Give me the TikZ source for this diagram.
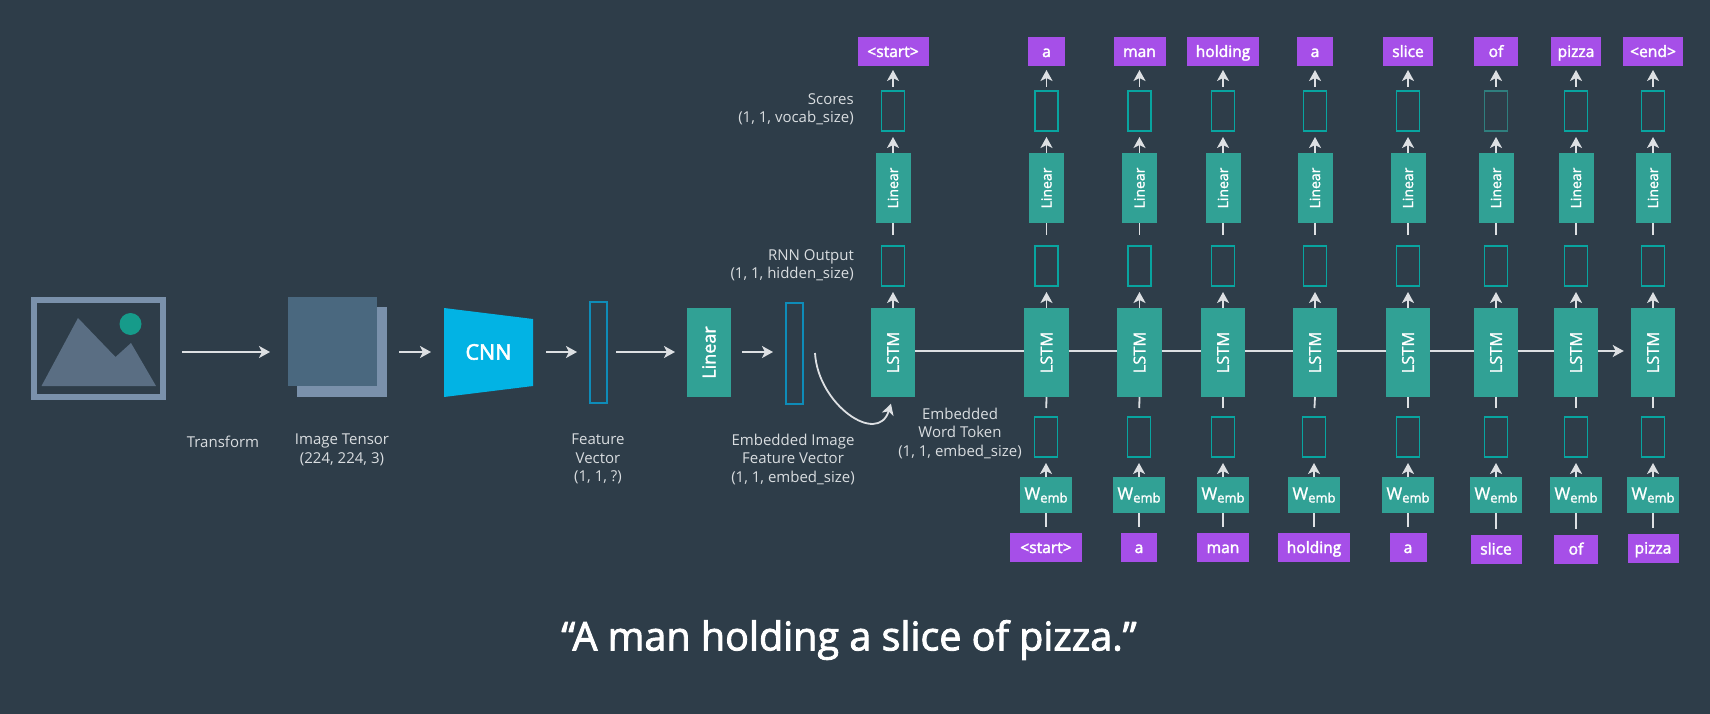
\documentclass[tikz,border=0pt]{standalone}
\usepackage{fontspec}
\setmainfont{Open Sans}
\usetikzlibrary{arrows.meta}
\definecolor{bgcol}{HTML}{2E3D49}
\definecolor{framecol}{HTML}{7A91AB}
\definecolor{hillcol}{HTML}{5A6E83}
\definecolor{tensorcol}{HTML}{4A687F}
\definecolor{tealcol}{HTML}{31A195}
\definecolor{suncol}{HTML}{169B8A}
\definecolor{outcol}{HTML}{08A5A0}
\definecolor{dimcol}{HTML}{2F7F7E}
\definecolor{bluecol}{HTML}{02B3E4}
\definecolor{vecblue}{HTML}{0E8CB8}
\definecolor{purplecol}{HTML}{A64FE8}
\definecolor{linecol}{HTML}{DDE0E3}
\definecolor{textcol}{HTML}{D9DDE0}
\newcommand{\heavy}[2]{\special{pdf:code 1 1 1 RG 2 Tr #1 w}#2\special{pdf:code 0 Tr}}
\tikzset{
lab/.style={text=textcol,align=center,font=\fontsize{15}{18.3}\selectfont,inner sep=0pt},
labr/.style={lab,align=right,anchor=east},
tealbox/.style={fill=tealcol,text=white,inner sep=0pt,outer sep=0pt},
lstmbox/.style={tealbox,minimum width=44.5pt,minimum height=89pt,font=\fontsize{16.5}{16.5}\selectfont},
linbox/.style={tealbox,minimum width=35pt,minimum height=70pt,font=\fontsize{14}{14}\selectfont},
wembbox/.style={tealbox,minimum width=52pt,minimum height=36pt,font=\fontsize{17}{17}\selectfont},
vecbox/.style={draw=outcol,line width=1.6pt,minimum width=23pt,minimum height=40pt,inner sep=0pt,outer sep=0pt},
wordbox/.style={fill=purplecol,text=white,minimum height=29pt,inner sep=0pt,outer sep=0pt,text height=14pt,text depth=3pt,font=\fontsize{15.6}{15.6}\selectfont},
feat/.style={draw=vecblue,line width=1.6pt,minimum height=101pt,inner sep=0pt,outer sep=0pt},
conn/.style={draw=linecol,line width=1.8pt},
arr/.style={conn,-{Stealth[length=11pt,width=12pt,inset=3pt]}}
}
\newcommand{\wemb}{\heavy{0.2}{W\raisebox{-3pt}{\fontsize{13}{13}\selectfont emb}}}
\begin{document}
\begin{tikzpicture}[x=1pt,y=-1pt]
\fill[bgcol] (0,0) rectangle (1710,714);
\useasboundingbox (0,0) rectangle (1710,714);

\node[draw=framecol,line width=6pt,minimum width=129pt,minimum height=97pt,inner sep=0pt,outer sep=3pt] (imgframe) at (98.5,348.5) {};
\fill[hillcol] (41.5,386) -- (78,318) -- (115.5,357) -- (131,343) -- (156,386) -- cycle;
\fill[suncol] (130.5,324) circle (11);
\node[fill=framecol,minimum width=90pt,minimum height=90pt,inner sep=0pt,outer sep=0pt] (tensorback) at (342,352) {};
\node[fill=tensorcol,minimum width=89pt,minimum height=89pt,inner sep=0pt,outer sep=0pt] (tensorfront) at (332.5,341.5) {};
\fill[bluecol] (444,308) -- (533,319) -- (533,386) -- (444,397) -- cycle;
\node[text=white,minimum width=89pt,minimum height=89pt,inner sep=0pt,outer sep=0pt,font=\fontsize{21.5}{21.5}\selectfont] (cnn) at (488.5,352) {\heavy{0.6}{CNN}};
\node[feat,minimum width=17pt] (featvec) at (598.5,352.5) {};
\node[tealbox,minimum width=44pt,minimum height=89pt,font=\fontsize{18}{18}\selectfont] (linear) at (709,352.5) {\rotatebox{90}{\heavy{0.3}{Linear}}};
\node[feat,minimum width=17pt] (embvec) at (794.5,353.5) {};

\draw[arr,shorten <=16pt,shorten >=18pt] (imgframe.east |- cnn) -- (tensorfront.west |- cnn);
\draw[arr,shorten <=12pt,shorten >=13pt] (tensorback.east) -- (cnn.west);
\draw[arr,shorten <=13pt,shorten >=13pt] (cnn.east) -- (featvec.west |- cnn);
\draw[arr,shorten <=9pt,shorten >=12pt] (featvec.east |- cnn) -- (linear.west |- cnn);
\draw[arr,shorten <=11pt,shorten >=13pt] (linear.east |- cnn) -- (embvec.west |- cnn);

\node[lab] (transformlab) at (223,442) {Transform};
\node[lab,anchor=north] (tensorlab) at (342,434) {Image Tensor\\(224, 224, 3)};
\node[lab,anchor=north] (featlab) at (598,434) {Feature\\Vector\\(1, 1, ?)};
\node[lab,anchor=north] (embveclab) at (793,434) {Embedded Image\\Feature Vector\\(1, 1, embed\_size)};
\node[lab,anchor=north] (tokenlab) at (960,408) {Embedded\\Word Token\\(1, 1, embed\_size)};
\node[labr] (scorelab) at (854,109.5) {Scores\\(1, 1, vocab\_size)};
\node[labr] (rnnlab) at (854,265) {RNN Output\\(1, 1, hidden\_size)};

\foreach \i/\x/\word/\wid/\scol in {0/893/{<start>}/71/outcol,1/1046.5/a/37/outcol,2/1139.5/man/52/outcol,3/1223/holding/72/outcol,4/1315/a/36.5/outcol,5/1408/slice/50.5/outcol,6/1496/of/44/dimcol,7/1576/pizza/50/outcol,8/1653/{<end>}/60/outcol}{
\node[lstmbox] (lstm\i) at (\x,352.5) {\rotatebox{90}{\heavy{0.2}{LSTM}}};
\node[vecbox] (rnn\i) at (\x,266) {};
\node[linbox] (lin\i) at (\x,188) {\rotatebox{90}{\heavy{0.2}{Linear}}};
\node[vecbox,draw=\scol] (score\i) at (\x,111) {};
\node[wordbox,minimum width=\wid pt] (out\i) at (\x,51.5) {\heavy{0.35}{\word}};
\draw[arr,shorten >=6pt] (lstm\i.north) -- (rnn\i.south);
\draw[conn,shorten <=11pt] (rnn\i.north) -- (lin\i.south);
\draw[arr,shorten >=6pt] (lin\i.north) -- (score\i.south);
\draw[arr,shorten <=4pt,shorten >=4pt] (score\i.north) -- (out\i.south);
}

\foreach \i/\x/\word/\wid/\wy in {1/1046/{<start>}/72/547.5,2/1139/a/36.5/547.5,3/1223/man/52/547.5,4/1314/holding/72/547.5,5/1408/a/37/547.5,6/1496/slice/51/549,7/1576/of/44/549,8/1653/pizza/51/548}{
\node[vecbox] (tok\i) at (\x,437) {};
\node[wembbox] (emb\i) at (\x,495) {\wemb};
\node[wordbox,minimum width=\wid pt] (in\i) at (\x,\wy) {\heavy{0.35}{\word}};
\draw[conn,shorten <=9pt] (tok\i.north) -- (lstm\i.south);
\draw[arr,shorten >=6pt] (emb\i.north) -- (tok\i.south);
\draw[conn,shorten <=6pt] (in\i.north) -- (emb\i.south);
}

\foreach \a/\b in {0/1,1/2,2/3,3/4,4/5,5/6,6/7}{
\draw[conn] ([yshift=1.5pt]lstm\a.east) -- ([yshift=1.5pt]lstm\b.west);
}
\draw[arr,shorten >=7pt] ([yshift=1.5pt]lstm7.east) -- ([yshift=1.5pt]lstm8.west);

\coordinate (curvestart) at (815,353);
\draw[arr,shorten >=7pt] (curvestart) .. controls (818,405) and (878,446) .. (lstm0.south);

\node[text=white,inner sep=0pt,font=\fontsize{39.5}{39.5}\selectfont] (caption) at (849,640) {\heavy{0.9}{“A man holding a slice of pizza.”}};
\end{tikzpicture}
\end{document}
